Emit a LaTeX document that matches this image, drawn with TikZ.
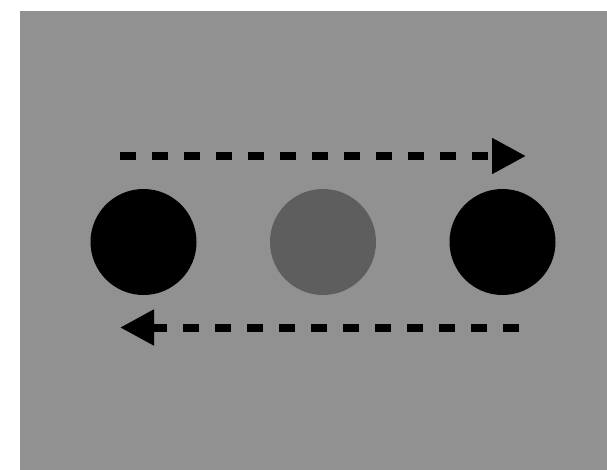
\documentclass[tikz,border=0pt]{standalone}
\usetikzlibrary{arrows.meta}
\definecolor{bggray}{HTML}{919191}
\definecolor{ballgray}{HTML}{5E5E5E}

\begin{document}
\begin{tikzpicture}[x=1pt, y=-1pt, >={Triangle[length=34pt,width=34pt]},
		ball/.style={circle, inner sep=0pt, minimum size=106pt},
		flow/.style={->, line width=8pt, dash pattern=on 16pt off 16pt}]
		\useasboundingbox (0,0) rectangle (607,470);
		\fill[bggray] (20,11) rectangle (607,470);
		\node[ball, fill=black] (leftball) at (143.5,242) {};
		\node[ball, fill=ballgray] (midball) at (323,242) {};
		\node[ball, fill=black] (rightball) at (502.5,242) {};
		\coordinate (topstart) at (120,156);
		\coordinate (topend) at (526,156);
		\coordinate (botstart) at (519,327.5);
		\coordinate (botend) at (120,327.5);
		\draw[flow] (topstart) -- (topend);
		\draw[flow] (botstart) -- (botend);
	\end{tikzpicture}
\end{document}
